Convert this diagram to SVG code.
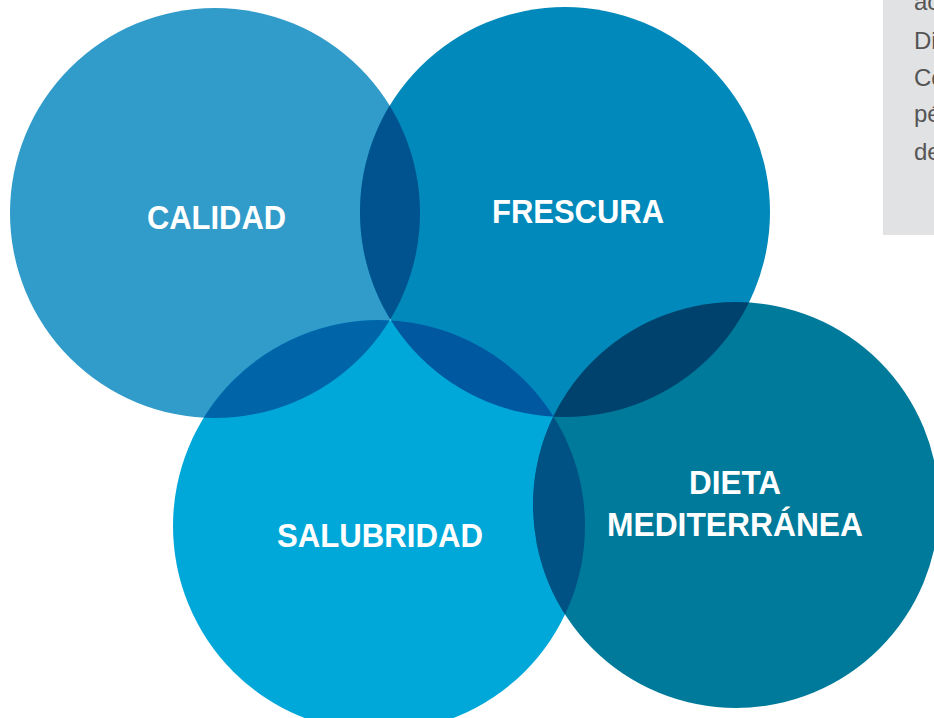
<svg xmlns="http://www.w3.org/2000/svg" width="934" height="718" viewBox="0 0 934 718">
  <style>
    .lbl { font-family: "Liberation Sans", Arial, sans-serif; font-weight: bold; font-size: 33px; fill: #ffffff; }
    .side { font-family: "Liberation Sans", Arial, sans-serif; font-size: 24px; fill: #555555; }
  </style>
  <defs>
    <clipPath id="clipC"><circle cx="215" cy="213" r="205"/></clipPath>
    <clipPath id="clipF"><circle cx="565" cy="212" r="205"/></clipPath>
    <clipPath id="clipS"><circle cx="379" cy="526" r="206"/></clipPath>
    <clipPath id="clipD"><circle cx="736" cy="505" r="203"/></clipPath>
  </defs>
  <rect width="934" height="718" fill="#ffffff"/>
  <g id="sidebar">
    <rect x="883" y="0" width="60" height="235" fill="#e1e2e4"/>
    <text class="side" x="914" y="10">ac</text>
    <text class="side" x="914" y="49">Di</text>
    <text class="side" x="914" y="86">Co</text>
    <text class="side" x="914" y="122">pé</text>
    <text class="side" x="914" y="160">de</text>
  </g>
  <g id="calidad">
    <circle cx="215" cy="213" r="205" fill="#319bca"/>
  </g>
  <g id="frescura">
    <circle cx="565" cy="212" r="205" fill="#0089ba"/>
  </g>
  <g id="salubridad">
    <circle cx="379" cy="526" r="206" fill="#00a8d9"/>
  </g>
  <g id="dieta">
    <circle cx="736" cy="505" r="203" fill="#007a9a"/>
  </g>
  <g id="overlaps">
    <circle cx="565" cy="212" r="205" fill="#00538f" clip-path="url(#clipC)"/>
    <circle cx="379" cy="526" r="206" fill="#0065a8" clip-path="url(#clipC)"/>
    <circle cx="379" cy="526" r="206" fill="#0058a0" clip-path="url(#clipF)"/>
    <circle cx="736" cy="505" r="203" fill="#00426e" clip-path="url(#clipF)"/>
    <circle cx="736" cy="505" r="203" fill="#005184" clip-path="url(#clipS)"/>
  </g>
  <g id="labels">
    <text class="lbl" x="147" y="229" textLength="139" lengthAdjust="spacingAndGlyphs">CALIDAD</text>
    <text class="lbl" x="492" y="223" textLength="172" lengthAdjust="spacingAndGlyphs">FRESCURA</text>
    <text class="lbl" x="277" y="547" textLength="206" lengthAdjust="spacingAndGlyphs">SALUBRIDAD</text>
    <text class="lbl" x="689" y="494" textLength="92" lengthAdjust="spacingAndGlyphs">DIETA</text>
    <text class="lbl" x="607" y="536" textLength="256" lengthAdjust="spacingAndGlyphs">MEDITERRÁNEA</text>
  </g>
</svg>
